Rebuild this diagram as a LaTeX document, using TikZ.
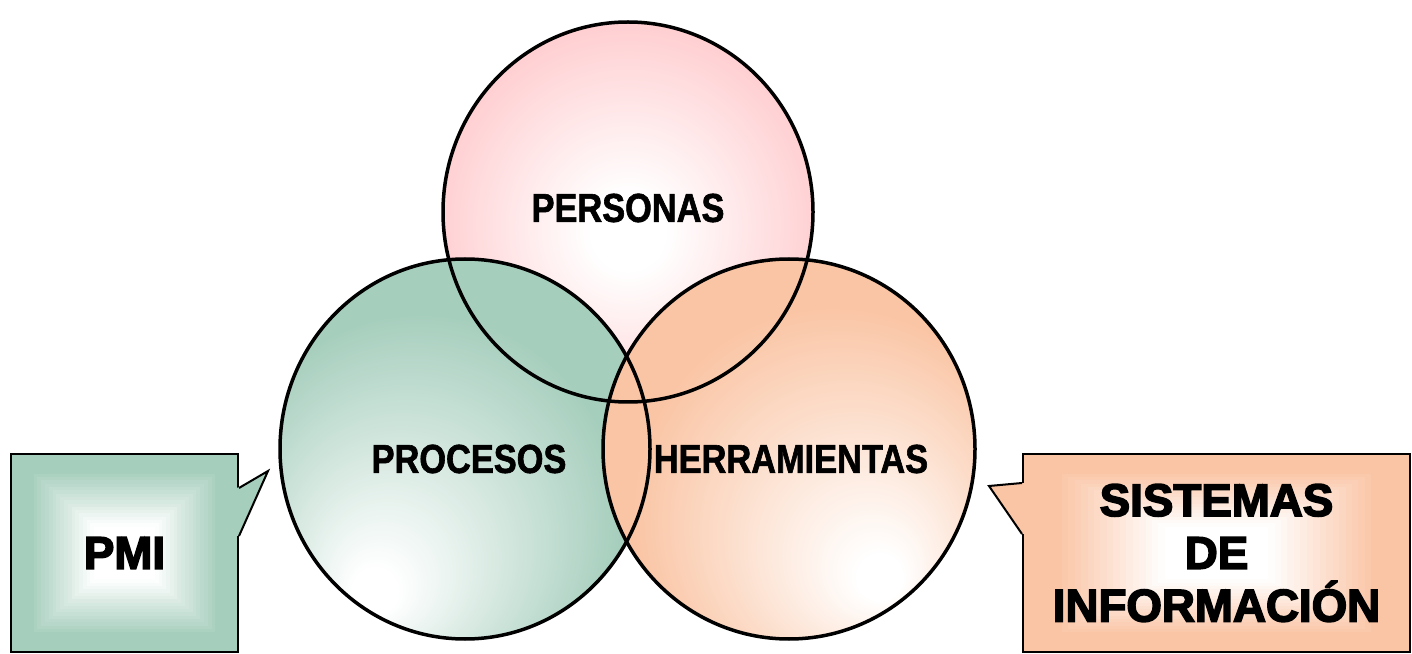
\documentclass[tikz,border=0pt]{standalone}
\usepackage{fontspec}
\usetikzlibrary{calc}
\newfontfamily\vennfont{Liberation Sans}[BoldFeatures={FakeStretch=0.85,FakeBold=1.5}]
\newfontfamily\boxfont{Liberation Sans}[BoldFeatures={FakeBold=3.5}]

\definecolor{personasc}{RGB}{255,198,201}
\definecolor{procesosc}{RGB}{166,206,189}
\definecolor{herramc}{RGB}{250,197,165}

\pgfdeclareradialshading{personasball}{\pgfpoint{0bp}{-3bp}}{color(0bp)=(white); color(5bp)=(white); color(30bp)=(personasc); color(50bp)=(personasc)}
\pgfdeclareradialshading{procesosball}{\pgfpoint{-13bp}{-20bp}}{color(0bp)=(white); color(3bp)=(white); color(27bp)=(procesosc); color(50bp)=(procesosc)}
\pgfdeclareradialshading{herramball}{\pgfpoint{13bp}{-18bp}}{color(0bp)=(white); color(3bp)=(white); color(27bp)=(herramc); color(50bp)=(herramc)}

\begin{document}
\begin{tikzpicture}[x=0.2mm, y=0.2mm,
  ring/.style={line width=0.7mm},
  venn label/.style={inner sep=0, font=\vennfont\bfseries\fontsize{23}{27}\selectfont},
  callout/.style={draw, line width=0.4mm, inner sep=0, align=center,
    font=\boxfont\bfseries\fontsize{26}{30}\selectfont,
    path picture={
      \foreach \k in {0,...,29} {
        \pgfmathsetmacro\s{1-\k/30}
        \pgfmathtruncatemacro\p{min(100,max(0,(\s-0.28)/0.55*100))}
        \fill[#1!\p!white] ($(path picture bounding box.center)!\s!(path picture bounding box.south west)$)
          rectangle ($(path picture bounding box.center)!\s!(path picture bounding box.north east)$);
      }}}]
\useasboundingbox (0,0) rectangle (1412,653);
\coordinate (personas) at (628,441);
\coordinate (procesos) at (465,204);
\coordinate (herram) at (789,204);
% fills first, then all rings on top
\shade[shading=personasball] (personas) ellipse [x radius=185, y radius=190];
\shade[shading=procesosball] (procesos) ellipse [x radius=185, y radius=190];
\shade[shading=herramball] (herram) ellipse [x radius=186, y radius=190];
\draw[ring] (personas) ellipse [x radius=185, y radius=190];
\draw[ring] (procesos) ellipse [x radius=185, y radius=190];
\draw[ring] (herram) ellipse [x radius=186, y radius=190];
\node[venn label] (personas label) at (628,445) {PERSONAS};
\node[venn label] (procesos label) at (469,194) {PROCESOS};
\node[venn label] (herram label) at (791,194) {HERRAMIENTAS};

% callouts
\node[callout=procesosc, minimum width=45.4mm, minimum height=39.6mm] (pmi) at (124.5,100) {PMI};
\coordinate (pmi tip) at ($(pmi.north east)+(29,-18)$);
\fill[procesosc] ($(pmi.north east)+(-2,-35)$) -- (pmi tip) -- ($(pmi.north east)+(0,-83)$) -- ($(pmi.north east)+(-2,-83)$) -- cycle;
\draw[line width=0.4mm] ($(pmi.north east)+(0,-35)$) -- (pmi tip) -- ($(pmi.north east)+(0,-83)$);

\node[callout=herramc, minimum width=77.4mm, minimum height=39.6mm] (sistemas) at (1216.5,100) {SISTEMAS\\DE\\INFORMACIÓN};
\coordinate (sistemas tip) at ($(sistemas.north west)+(-33,-33)$);
\fill[herramc] ($(sistemas.north west)+(2,-30)$) -- (sistemas tip) -- ($(sistemas.north west)+(0,-81)$) -- ($(sistemas.north west)+(2,-81)$) -- cycle;
\draw[line width=0.4mm] ($(sistemas.north west)+(0,-30)$) -- (sistemas tip) -- ($(sistemas.north west)+(0,-81)$);
\end{tikzpicture}
\end{document}
